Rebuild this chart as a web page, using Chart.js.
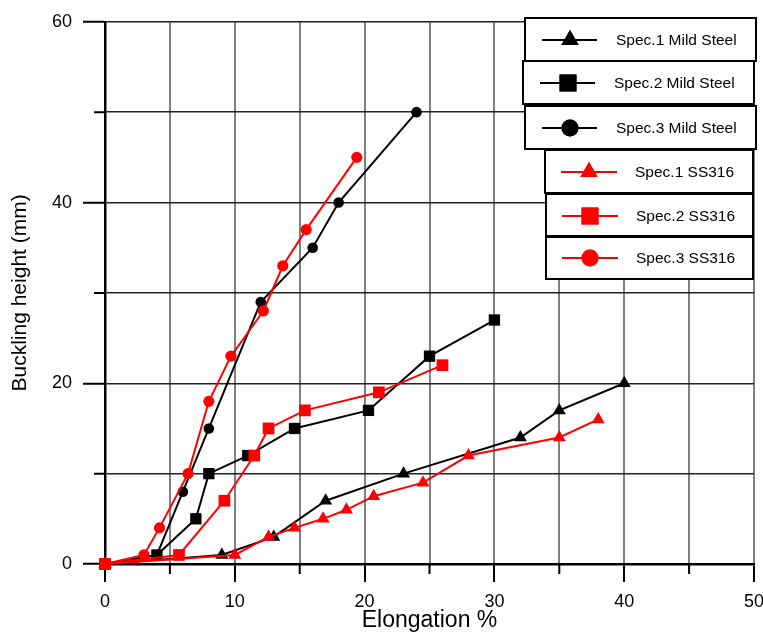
<!DOCTYPE html>
<html>
<head>
<meta charset="utf-8">
<script src="https://cdn.jsdelivr.net/npm/chart.js@4/dist/chart.umd.min.js"></script>
<style>
  html, body { margin: 0; padding: 0; background: #fff; }
</style>
</head>
<body>
<canvas id="bucklingChart" width="763" height="632"></canvas>
<script>
// Series names (legend order)
var seriesNames = ["Spec.1 Mild Steel", "Spec.2 Mild Steel", "Spec.3 Mild Steel",
                   "Spec.1 SS316", "Spec.2 SS316", "Spec.3 SS316"];

// Elongation % (x) and buckling height in mm (y)
var ms1X = [0, 9, 13, 17, 23, 32, 35, 40];
var ms1Y = [0, 1, 3, 7, 10, 14, 17, 20];
var ms2X = [0, 4, 7, 8, 11, 14.6, 20.3, 25, 30];
var ms2Y = [0, 1, 5, 10, 12, 15, 17, 23, 27];
var ms3X = [0, 4, 6, 8, 12, 16, 18, 24];
var ms3Y = [0, 1, 8, 15, 29, 35, 40, 50];
var ss1X = [0, 10, 12.6, 14.6, 16.8, 18.6, 20.7, 24.5, 28, 35, 38];
var ss1Y = [0, 1, 3, 4, 5, 6, 7.5, 9, 12, 14, 16];
var ss2X = [0, 5.7, 9.2, 11.5, 12.6, 15.4, 21.1, 26];
var ss2Y = [0, 1, 7, 12, 15, 17, 19, 22];
var ss3X = [0, 3, 4.2, 6.4, 8, 9.7, 12.2, 13.7, 15.5, 19.4];
var ss3Y = [0, 1, 4, 10, 18, 23, 28, 33, 37, 45];

// Axis ticks
var xMax = 50, xStep = 5, xLabelStep = 10;
var yMax = 60, yStep = 10, yLabelStep = 20;

var FONT = "'Liberation Sans', Arial, sans-serif";

function pts(xs, ys){
    return xs.map(function(x, i){ return {x: x, y: ys[i]}; });
}

var styles = [
    {color: "#000000", marker: "triangle", r: 7.5, order: 1},
    {color: "#000000", marker: "rect", r: 8, order: 1},
    {color: "#000000", marker: "circle", r: 5.3, order: 1},
    {color: "#ff0000", marker: "triangle", r: 7.5, order: 0},
    {color: "#ff0000", marker: "rect", r: 8.3, order: 0},
    {color: "#ff0000", marker: "circle", r: 5.6, order: 0}
];
var seriesData = [pts(ms1X, ms1Y), pts(ms2X, ms2Y), pts(ms3X, ms3Y),
                  pts(ss1X, ss1Y), pts(ss2X, ss2Y), pts(ss3X, ss3Y)];

// legend boxes: [left, top, width, height, lineStart, lineEnd, markerX, textX, centerY]
var legendBoxes = [
    [525, 18, 231, 43, 542, 597, 570, 616, 40],
    [523, 61, 231, 43, 540, 595, 568, 614, 83],
    [525, 106, 231, 43, 542, 597, 570, 616, 128],
    [545, 150, 208, 43, 561, 617, 589, 635, 172],
    [546, 194, 207, 42, 562, 618, 590, 636, 216],
    [546, 237, 207, 42, 562, 618, 590, 636, 258]
];
var legendRadius = [10, 12, 8.5, 10, 12, 8.5];

var extras = {
    id: "extras",
    afterDraw: function(chart){
        var ctx = chart.ctx;
        var xs = chart.scales.x, ys = chart.scales.y;
        var area = chart.chartArea;
        ctx.save();
        // minor ticks
        ctx.strokeStyle = "#000";
        ctx.lineWidth = 2;
        ctx.beginPath();
        for (var v = xStep; v <= xMax; v += xStep){
            if (v % xLabelStep === 0) continue;
            var px = xs.getPixelForValue(v);
            ctx.moveTo(px, area.bottom);
            ctx.lineTo(px, area.bottom + 10);
        }
        for (var w = yStep; w <= yMax; w += yStep){
            if (w % yLabelStep === 0) continue;
            var py = ys.getPixelForValue(w);
            ctx.moveTo(area.left, py);
            ctx.lineTo(area.left - 11, py);
        }
        ctx.stroke();

        // legend
        legendBoxes.forEach(function(b, i){
            ctx.fillStyle = "#fff";
            ctx.fillRect(b[0], b[1], b[2], b[3]);
            ctx.strokeStyle = "#000";
            ctx.lineWidth = 2;
            ctx.strokeRect(b[0], b[1], b[2], b[3]);
            ctx.strokeStyle = styles[i].color;
            ctx.beginPath();
            ctx.moveTo(b[4], b[8]);
            ctx.lineTo(b[5], b[8]);
            ctx.stroke();
            ctx.fillStyle = styles[i].color;
            Chart.helpers.drawPoint(ctx, {pointStyle: styles[i].marker, radius: legendRadius[i], rotation: 0, borderWidth: 0}, b[6], b[8]);
            ctx.fill();
            ctx.fillStyle = "#000";
            ctx.font = "15.5px " + FONT;
            ctx.textBaseline = "middle";
            ctx.textAlign = "left";
            ctx.fillText(seriesNames[i], b[7], b[8] + 1);
        });
        ctx.restore();
    }
};

new Chart(document.getElementById("bucklingChart"), {
    type: "scatter",
    data: {
        datasets: seriesData.map(function(d, i){
            return {
                label: seriesNames[i],
                data: d,
                showLine: true,
                borderColor: styles[i].color,
                backgroundColor: styles[i].color,
                borderWidth: 2,
                pointStyle: styles[i].marker,
                pointRadius: styles[i].r,
                pointBorderWidth: 0,
                pointBackgroundColor: styles[i].color,
                order: styles[i].order,
                clip: false
            };
        })
    },
    options: {
        responsive: false,
        animation: false,
        layout: { padding: { top: 18, right: 9, left: 0, bottom: 0 } },
        plugins: { legend: { display: false }, tooltip: { enabled: false } },
        scales: {
            x: {
                type: "linear",
                min: 0, max: xMax,
                afterFit: function(s){ s.height = 68; s.paddingRight = 0; s.paddingLeft = 0; },
                border: { color: "#000", width: 2.5 },
                grid: {
                    color: "#808080",
                    lineWidth: 2,
                    tickLength: 18,
                    tickWidth: 2,
                    tickColor: function(c){ return c.tick && c.tick.value % xLabelStep === 0 ? "#000" : "rgba(0,0,0,0)"; }
                },
                ticks: {
                    stepSize: xStep,
                    autoSkip: false,
                    maxRotation: 0,
                    padding: 9,
                    color: "#000",
                    font: { family: FONT, size: 18 },
                    callback: function(v){ return v % xLabelStep === 0 ? v : ""; }
                },
                title: {
                    display: true,
                    text: "Elongation %",
                    color: "#000",
                    font: { family: FONT, size: 23, lineHeight: 1 },
                    padding: 0
                }
            },
            y: {
                type: "linear",
                min: 0, max: yMax,
                afterFit: function(s){ s.width = 105; },
                border: { color: "#000", width: 2.5 },
                grid: {
                    color: "#222",
                    lineWidth: 1.5,
                    tickLength: 22,
                    tickWidth: 2,
                    tickColor: function(c){ return c.tick && c.tick.value % yLabelStep === 0 ? "#000" : "rgba(0,0,0,0)"; }
                },
                ticks: {
                    stepSize: yStep,
                    autoSkip: false,
                    padding: 11,
                    color: "#000",
                    font: { family: FONT, size: 18 },
                    callback: function(v){ return v % yLabelStep === 0 ? v : ""; }
                },
                title: {
                    display: true,
                    text: "Buckling height (mm)",
                    color: "#000",
                    font: { family: FONT, size: 21, lineHeight: 1 },
                    padding: { top: 10, bottom: 0 }
                }
            }
        }
    },
    plugins: [extras]
});
</script>
</body>
</html>
